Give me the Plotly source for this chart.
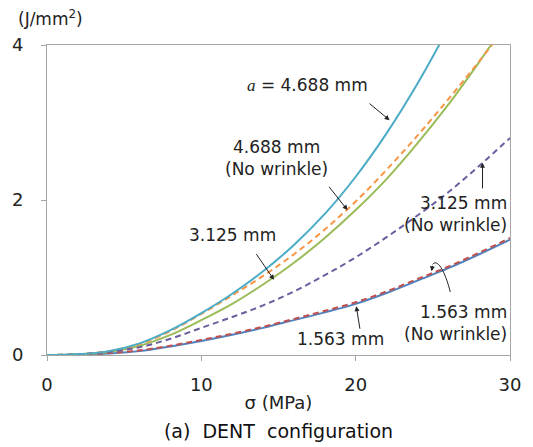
import plotly.graph_objects as go

sigma = [0, 2, 4, 6, 8, 10, 12, 14, 16, 18, 20, 22, 24, 26, 28, 30]

a4688 = [0, 0.01, 0.05, 0.15, 0.32, 0.54, 0.79, 1.08, 1.42, 1.82, 2.30, 2.86, 3.50, 4.22, 5.00, 5.80]
a4688_nw = [0, 0.01, 0.05, 0.14, 0.31, 0.53, 0.77, 1.02, 1.30, 1.62, 1.98, 2.39, 2.83, 3.30, 3.79, 4.30]
a3125 = [0, 0.01, 0.04, 0.12, 0.26, 0.45, 0.66, 0.91, 1.19, 1.51, 1.87, 2.27, 2.73, 3.23, 3.78, 4.36]
a3125_nw = [0, 0.01, 0.04, 0.10, 0.21, 0.35, 0.49, 0.64, 0.82, 1.03, 1.26, 1.52, 1.80, 2.10, 2.44, 2.80]
a1563 = [0, 0.004, 0.02, 0.05, 0.11, 0.18, 0.26, 0.35, 0.45, 0.55, 0.66, 0.80, 0.96, 1.12, 1.30, 1.49]
a1563_nw = [0, 0.005, 0.025, 0.06, 0.12, 0.195, 0.275, 0.365, 0.465, 0.57, 0.68, 0.82, 0.98, 1.14, 1.32, 1.51]

series = [
    ("1.563 mm", a1563, "#4F81BD", "solid"),
    ("1.563 mm (No wrinkle)", a1563_nw, "#C0504D", "6px,4px"),
    ("3.125 mm", a3125, "#9BBB59", "solid"),
    ("4.688 mm (No wrinkle)", a4688_nw, "#F79646", "6px,4px"),
    ("3.125 mm (No wrinkle)", a3125_nw, "#6A5F9E", "6px,4px"),
    ("a = 4.688 mm", a4688, "#4BACC6", "solid"),
]

font = "DejaVu Sans, sans-serif"
txtc = "#222222"

fig = go.Figure()
for name, ys, col, dash in series:
    fig.add_trace(go.Scatter(x=sigma, y=ys, mode="lines", name=name,
                             line=dict(color=col, width=2, dash=dash, shape="spline")))

# labels (text only)
labels = [
    (16.87, 3.48, "<i style='font-family:Liberation Serif'>a</i> = 4.688 mm", "center"),
    (14.9, 2.54, "4.688 mm<br>(No wrinkle)", "center"),
    (12.05, 1.55, "3.125 mm", "center"),
    (29.93, 1.82, "3.125 mm<br>(No wrinkle)", "right"),
    (29.93, 0.41, "1.563 mm<br>(No wrinkle)", "right"),
    (19.02, 0.21, "1.563 mm", "center"),
]
for x, y, t, xa in labels:
    fig.add_annotation(x=x, y=y, text=t, showarrow=False, xanchor=xa, yanchor="middle",
                       align=xa if xa != "center" else "center",
                       font=dict(size=17, color=txtc, family=font))

# arrows (tail -> tip)
arrows = [
    ((20.8, 3.26), (22.2, 3.03)),
    ((18.2, 2.19), (19.47, 1.87)),
    ((13.5, 1.32), (14.71, 0.97)),
    ((28.22, 2.13), (28.22, 2.48)),
    ((24.99, 1.17), (24.92, 1.08)),
    ((20.29, 0.32), (20.04, 0.63)),
]
for (tx, ty), (hx, hy) in arrows:
    fig.add_annotation(x=hx, y=hy, ax=tx, ay=ty, axref="x", ayref="y", text="",
                       showarrow=True, arrowhead=2, arrowsize=1, arrowwidth=1,
                       arrowcolor="#222222")

# curved hook for the 1.563 mm (No wrinkle) pointer
fig.add_shape(type="path", xref="x", yref="y",
              path="M 26.13,0.813 C 25.81,1.071 25.30,1.252 24.99,1.17",
              line=dict(color="#222222", width=1))

fig.add_annotation(x=0, y=1, xref="paper", yref="paper", xanchor="left", yanchor="middle",
                   xshift=-31, yshift=27, showarrow=False, text="(J/mm<sup>2</sup>)",
                   font=dict(size=17, color=txtc, family=font))

fig.update_layout(
    width=533, height=447,
    margin=dict(l=45, r=15, t=45, b=92),
    plot_bgcolor="white", paper_bgcolor="white",
    showlegend=False,
    font=dict(family=font, size=18, color=txtc),
    title=dict(text="(a)  DENT  configuration", x=0.5, xanchor="center", xref="paper",
               y=0.035, yanchor="middle", font=dict(size=19, color="#111111", family=font)),
    xaxis=dict(range=[0, 30], tickvals=[0, 10, 20, 30], showgrid=False, zeroline=False,
               showline=True, linecolor="#A6A6A6", linewidth=1, mirror=True,
               ticks="outside", ticklen=5, tickcolor="#A6A6A6", ticklabelstandoff=8,
               tickfont=dict(size=18),
               title=dict(text="σ (MPa)", standoff=2, font=dict(size=18))),
    yaxis=dict(range=[0, 4], tickvals=[0, 2, 4], showgrid=False, zeroline=False,
               showline=True, linecolor="#A6A6A6", linewidth=1, mirror=True,
               ticks="outside", ticklen=5, tickcolor="#A6A6A6", ticklabelstandoff=14,
               tickfont=dict(size=18)),
)

fig.write_html("out.html")
